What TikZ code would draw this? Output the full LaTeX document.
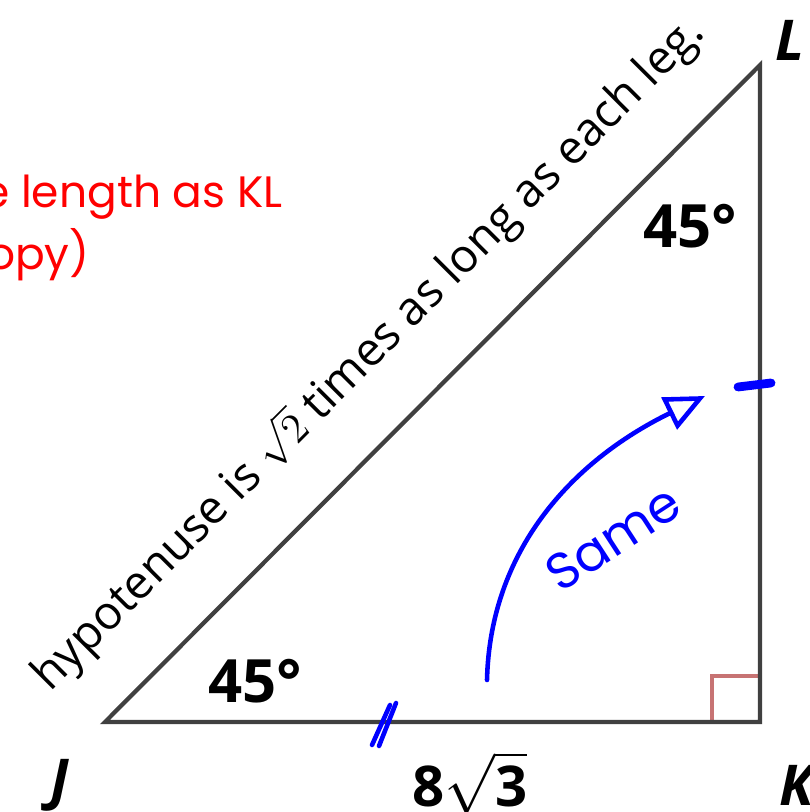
\documentclass[tikz,border=0pt]{standalone}
\usepackage{fontspec}
\setmainfont{Open Sans}
\newfontfamily\handfont{Poppins}
\usetikzlibrary{arrows.meta,positioning}

\begin{document}
\begin{tikzpicture}[
    every node/.style={font=\fontsize{16}{18}\selectfont},
    side/.style={draw=black!75, line width=1.2pt},
    vertex/.style={font=\fontsize{16}{18}\selectfont\bfseries\itshape},
    angle/.style={font=\fontsize{17}{19}\selectfont\bfseries},
    pen/.style={draw=blue, line width=1.3pt, line cap=round},
    note/.style={text=red, font=\fontsize{12.5}{15}\selectfont\handfont},
    >=Stealth
]
    \useasboundingbox (0,0) rectangle (8.09,8.12);
    \clip (0,0) rectangle (8.09,8.12);

    \coordinate (J) at (1.05,0.90);
    \coordinate (K) at (7.60,0.90);
    \coordinate (L) at (7.60,7.47);

    \draw[draw=red!60!black!55, line width=1pt] (7.12,0.90) -- (7.12,1.36) -- (7.60,1.36);
    \draw[side] (J) -- (K) -- (L) -- cycle;

    \node[vertex] (lj) at (0.60,0.27) {J};
    \node[vertex] (lk) at (7.97,0.27) {K};
    \node[vertex] (ll) at (7.90,7.72) {L};
    \node[angle, font=\fontsize{16}{18}\selectfont\bfseries] (len) at (4.70,0.29) {8$\sqrt{\mathbf{3}}$};
    \node[angle] (aj) at (2.55,1.31) {45°};
    \node[angle] (al) at (6.90,5.86) {45°};

    \node[rotate=45.1, font=\fontsize{13.2}{15}\selectfont] (hyp) at (3.69,4.58)
        {hypotenuse is $\sqrt{2}$ times as long as each leg.};

    \node[note, anchor=base east] (n1) at (2.95,6.04) {me length as KL};
    \node[note, anchor=base east] (n2) at (1.02,5.42) {(Copy)};

    \coordinate (s0) at (4.87,1.32);
    \coordinate (s1) at (7.05,4.16);
    \draw[pen, -{Triangle[open, length=4mm, width=3.5mm]}]
        (s0) .. controls (4.90,2.6) and (5.7,3.5) .. (s1);
    \node[text=blue, rotate=33, font=\fontsize{14.5}{17}\selectfont\handfont] (same) at (6.13,2.74) {Same};

    \draw[pen] (3.72,0.67) -- (3.90,1.07);
    \draw[pen] (3.79,0.66) -- (3.96,1.09);
    \draw[pen, line width=2.5pt] (7.38,4.25) -- (7.71,4.29);
\end{tikzpicture}
\end{document}
